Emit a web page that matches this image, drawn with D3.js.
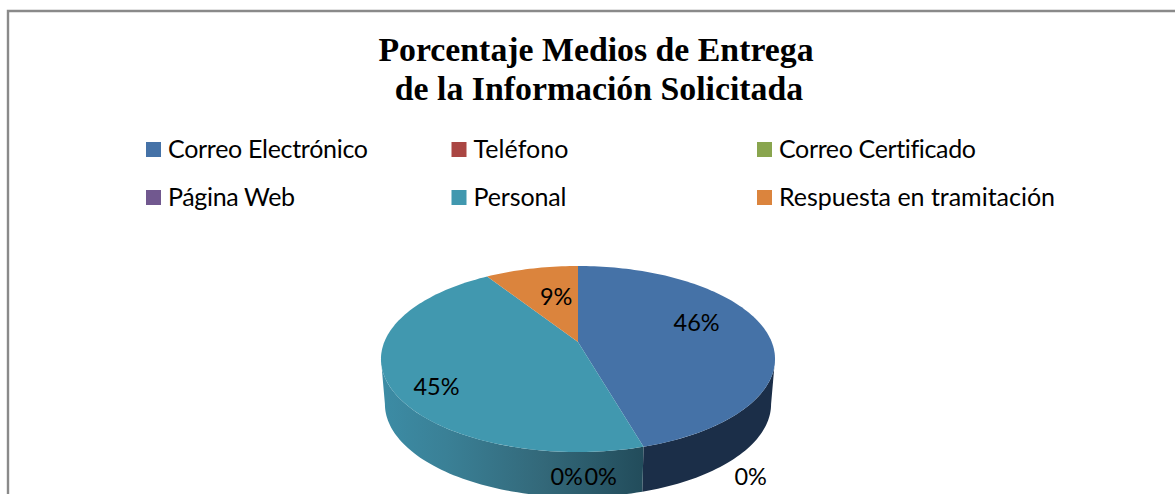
<!DOCTYPE html>
<html lang="es">
<head>
<meta charset="utf-8">
<title>Porcentaje Medios de Entrega</title>
<script src="https://cdn.jsdelivr.net/npm/d3@7"></script>
<style>
  html, body { margin: 0; padding: 0; background: #fff; overflow: hidden; }
  svg { display: block; }
  .chart-title { font-family: "Liberation Serif", serif; font-weight: bold; font-size: 33.8px; fill: #000; text-anchor: middle; }
  .legend-text { font-family: Lato, "Open Sans", sans-serif; font-size: 25px; fill: #000; font-variant-ligatures: none; }
  .slice-label { font-family: Lato, "Open Sans", sans-serif; font-size: 23.5px; fill: #000; text-anchor: middle; dominant-baseline: central; }
</style>
</head>
<body>
<svg></svg>
<script>
const titleLines = ["Porcentaje Medios de Entrega", "de la Información Solicitada"];
const categories = ["Correo Electrónico", "Teléfono", "Correo Certificado", "Página Web", "Personal", "Respuesta en tramitación"];
const values = [45.5, 0, 0, 0, 45.4, 9.1];
const labels = ["46%", "0%", "0%", "0%", "45%", "9%"];

const colors = ["#4572a7", "#aa4643", "#89a54e", "#71588f", "#4198af", "#db843d"];
const sideColors = ["#1b2e48", "#1b2e48", "#1b2e48", "#1b2e48", "url(#tealSide)", "#8a5326"];
// legend text widths and label nudges, the original labels were placed by hand
const legendWidths = [200, 95, 197, 127, 93, 276];
const labelNudge = [[-4, -12], [133, 71], [-17, 71], [-51, 71], [-21, 19], [10, 4]];

const width = 1175;
const height = 494;

// tilted disc: the far side of the pie is foreshortened
const centerX = 578;
const centerY = 342;
const radiusX = 193.7;
const radiusY = 89.9;
const tilt = -0.183;
const depth = 45;
const bottomShrink = 0.98;

const svg = d3.select("svg").attr("width", width).attr("height", height);

const project = (angle, r = 1, lower = false) => {
  const u = r * Math.sin(angle);
  const v = -r * Math.cos(angle);
  const w = 1 + tilt * v;
  const x = (radiusX * u) / w;
  const y = (radiusY * v) / w;
  return lower
    ? [centerX + x * bottomShrink, centerY + y + depth]
    : [centerX + x, centerY + y];
};

const rimAngles = (start, end) => {
  const steps = Math.max(1, Math.ceil((end - start) * 40));
  return d3.range(steps + 1).map((i) => start + ((end - start) * i) / steps);
};

const line = d3.line().curve(d3.curveLinear);
const slices = d3.pie().sort(null).value((d) => d)(values);

// angles where the rim turns away from the viewer, sides only show between them
const frontStart = Math.acos(tilt);
const frontEnd = 2 * Math.PI - frontStart;

const drawFrame = () => {
  svg
    .append("path")
    .attr("d", `M8,${height + 5}V11H${width + 5}`)
    .attr("fill", "none")
    .attr("stroke", "#8a8a8a")
    .attr("stroke-width", 2.4);
};

const addTitle = () => {
  svg
    .selectAll(".chart-title")
    .data(titleLines)
    .enter()
    .append("text")
    .attr("class", "chart-title")
    .attr("x", (d, i) => (i === 0 ? 596 : 599))
    .attr("y", (d, i) => 61 + i * 38.5)
    .text((d) => d);
};

const addLegend = () => {
  const colScale = d3.scaleLinear().domain([0, 2]).range([146, 757]);
  const rowScale = d3.scaleLinear().domain([0, 1]).range([142, 190]);

  const items = svg
    .selectAll(".legend-item")
    .data(categories)
    .enter()
    .append("g")
    .attr("class", "legend-item")
    .attr("transform", (d, i) => `translate(${colScale(i % 3)}, ${rowScale(Math.floor(i / 3))})`);

  items
    .append("rect")
    .attr("width", 15)
    .attr("height", 15)
    .attr("fill", (d, i) => colors[i]);

  items
    .append("text")
    .attr("class", "legend-text")
    .attr("x", 22)
    .attr("y", 16)
    .attr("textLength", (d, i) => legendWidths[i])
    .attr("lengthAdjust", "spacing")
    .text((d) => d);
};

const addGradient = () => {
  const gradient = svg
    .append("defs")
    .append("linearGradient")
    .attr("id", "tealSide")
    .attr("gradientUnits", "userSpaceOnUse")
    .attr("x1", centerX - 197)
    .attr("x2", centerX + 66)
    .attr("y1", 0)
    .attr("y2", 0);
  gradient.append("stop").attr("offset", "0").attr("stop-color", "#3c8ca5");
  gradient.append("stop").attr("offset", "0.25").attr("stop-color", "#3a8096");
  gradient.append("stop").attr("offset", "0.62").attr("stop-color", "#336879");
  gradient.append("stop").attr("offset", "1").attr("stop-color", "#224c5b");
};

const drawSides = () => {
  const visible = slices.filter((d) => d.value > 0 && d.startAngle < frontEnd && d.endAngle > frontStart);
  svg
    .selectAll(".slice-side")
    .data(visible)
    .enter()
    .append("path")
    .attr("class", "slice-side")
    .attr("fill", (d) => sideColors[d.index])
    .attr("d", (d) => {
      const angles = rimAngles(Math.max(d.startAngle, frontStart), Math.min(d.endAngle, frontEnd));
      const upper = angles.map((a) => project(a));
      const lower = angles.map((a) => project(a, 1, true)).reverse();
      return line(upper.concat(lower)) + "Z";
    });
};

const drawTops = () => {
  svg
    .selectAll(".slice-top")
    .data(slices.filter((d) => d.value > 0))
    .enter()
    .append("path")
    .attr("class", "slice-top")
    .attr("fill", (d) => colors[d.index])
    .attr("d", (d) => line([[centerX, centerY]].concat(rimAngles(d.startAngle, d.endAngle).map((a) => project(a)))) + "Z");
};

const addLabels = () => {
  svg
    .selectAll(".slice-label")
    .data(slices)
    .enter()
    .append("text")
    .attr("class", "slice-label")
    .attr("x", (d) => project((d.startAngle + d.endAngle) / 2, 0.65)[0] + labelNudge[d.index][0])
    .attr("y", (d) => project((d.startAngle + d.endAngle) / 2, 0.65)[1] + labelNudge[d.index][1])
    .text((d) => labels[d.index]);
};

addGradient();
drawFrame();
addTitle();
addLegend();
drawSides();
drawTops();
addLabels();
</script>
</body>
</html>
